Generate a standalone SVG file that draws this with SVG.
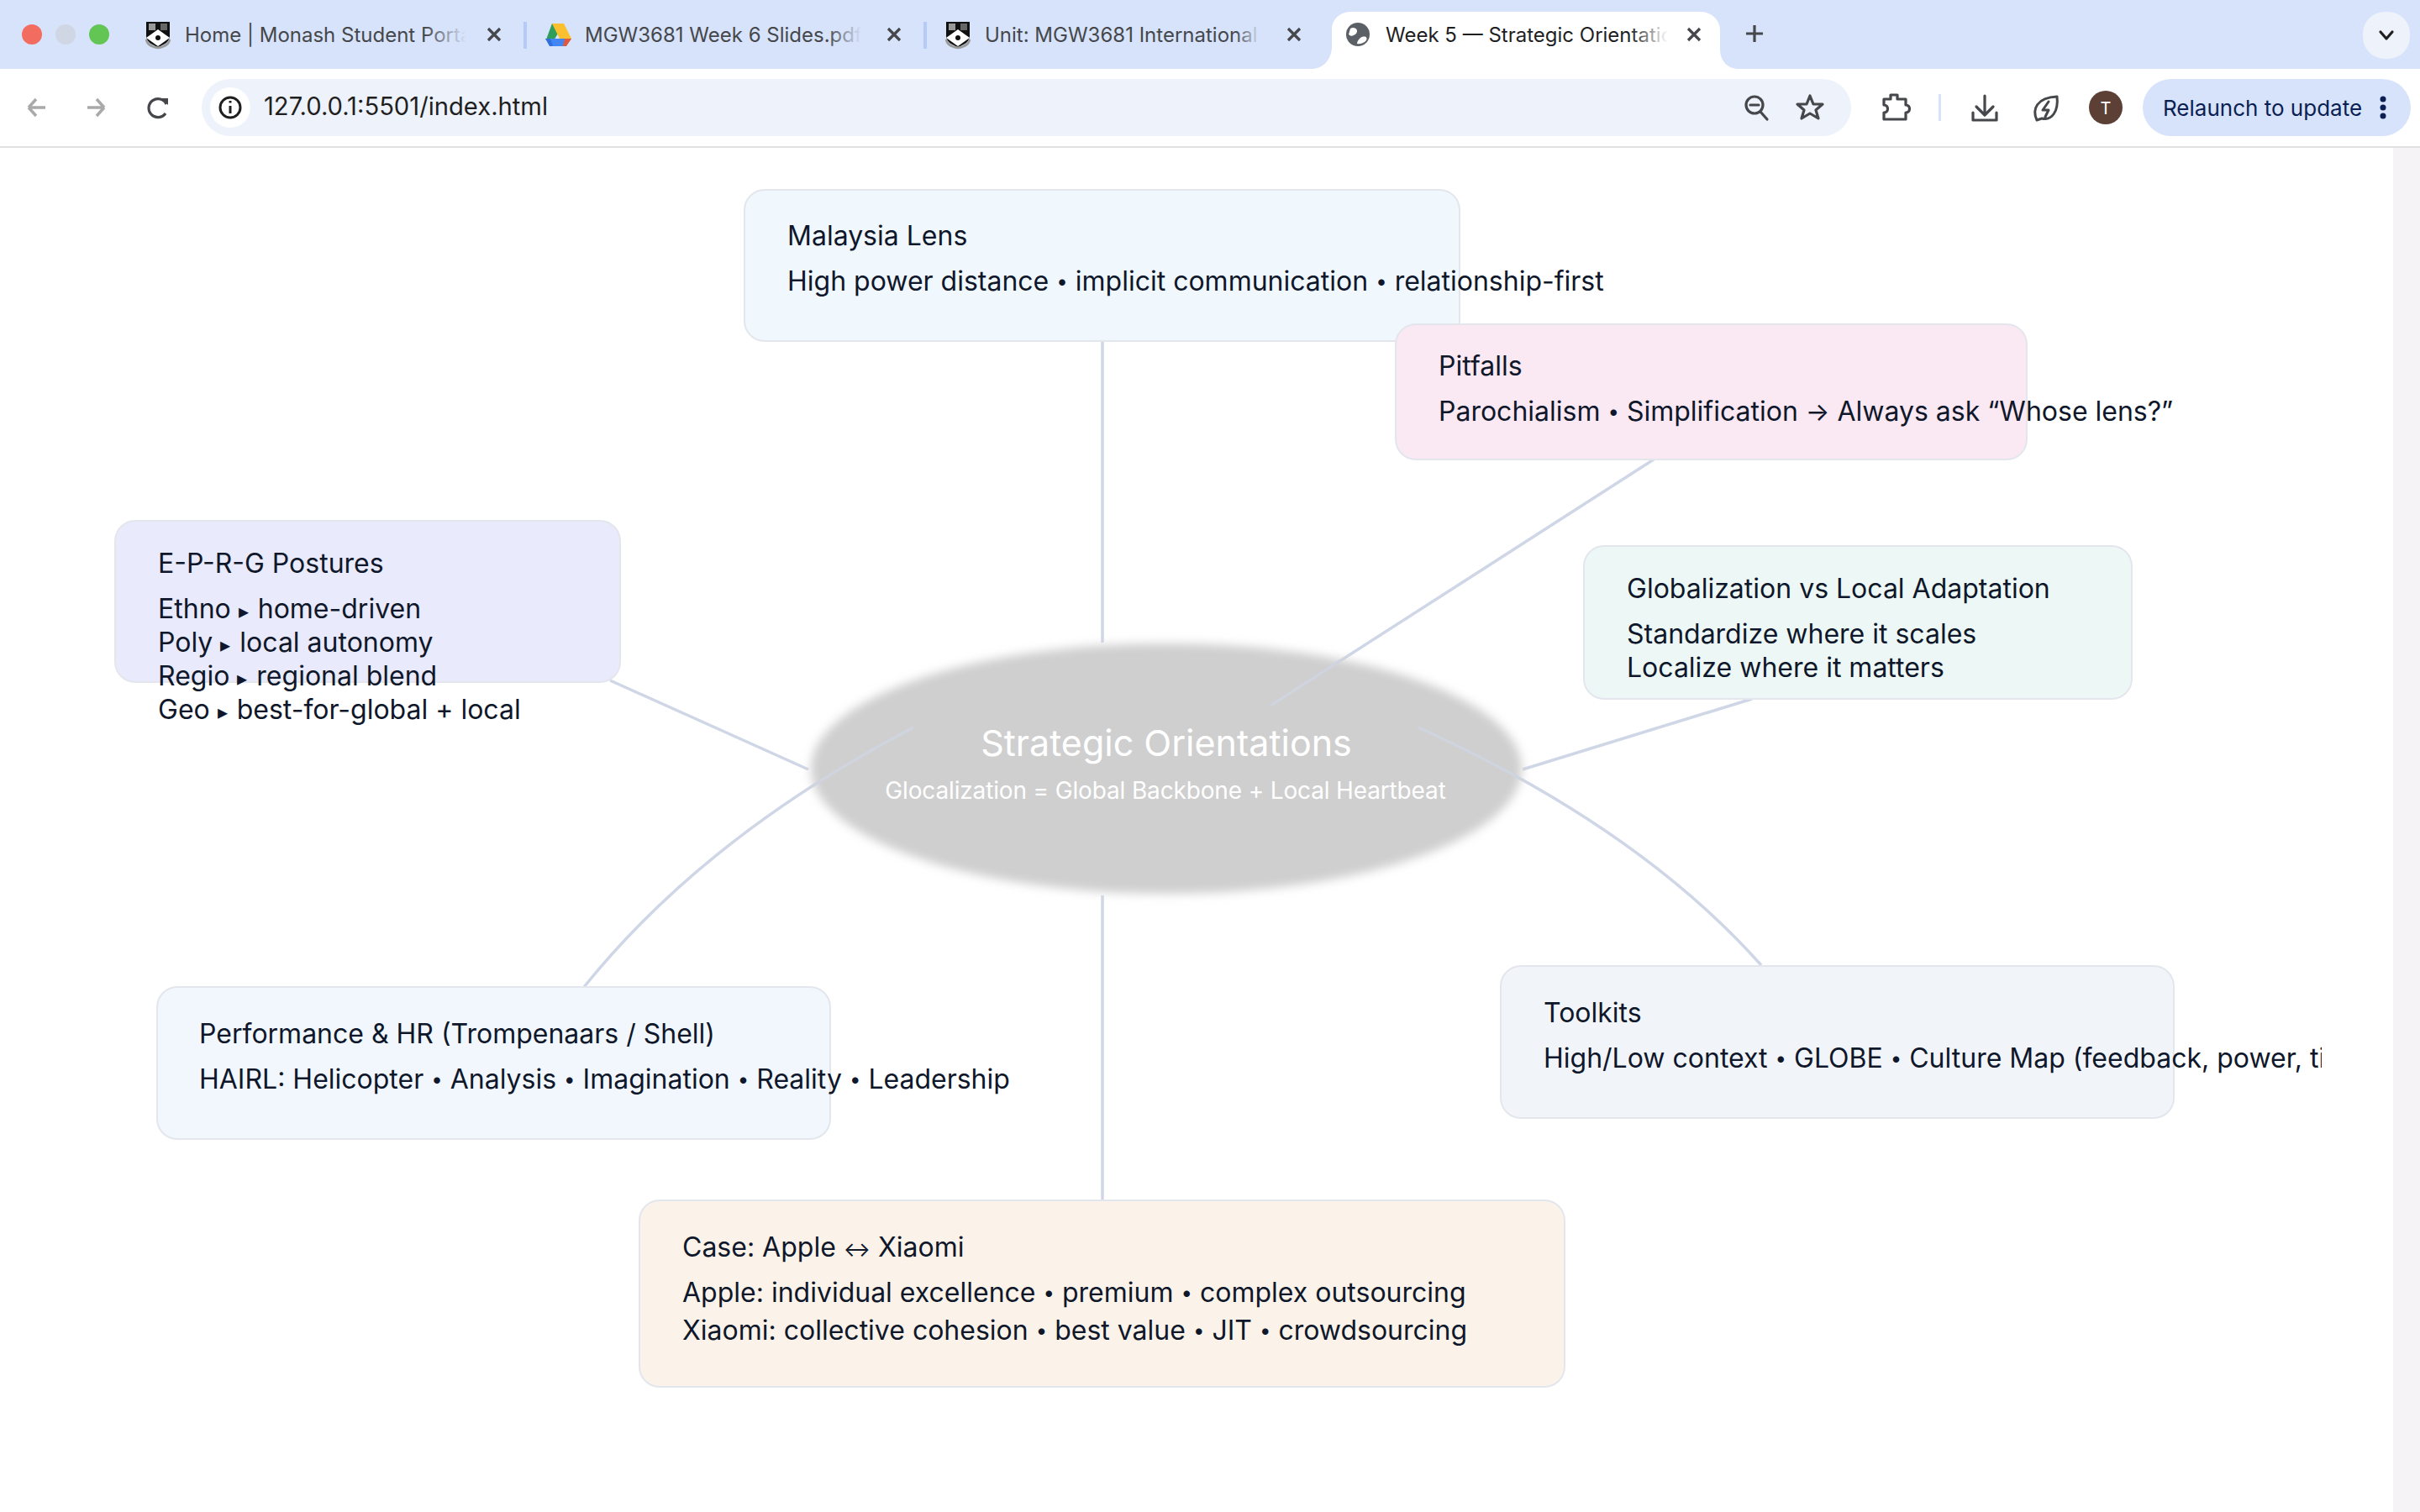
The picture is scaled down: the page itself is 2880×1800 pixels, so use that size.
<svg xmlns="http://www.w3.org/2000/svg" width="2880" height="1800" viewBox="0 0 2880 1800">
<style>
text{font-family:Inter,"Liberation Sans",sans-serif}
.t{font-size:32px;fill:#0f172a}
.s{font-size:24px;baseline-shift:3px}
.k{font-size:24px;letter-spacing:2px}
.tab{font-size:24px;fill:#45474a}
.card{stroke:#e3e6ec;stroke-width:2}
.conn{fill:none;stroke:#cfd6e6;stroke-width:3.500}
.ic{fill:none;stroke:#45474a;stroke-width:3.200;stroke-linecap:round;stroke-linejoin:round}
</style>
<defs>
<filter id="soft" x="-5%" y="-10%" width="110%" height="120%"><feGaussianBlur stdDeviation="6"/></filter>
<linearGradient id="fb"><stop offset="0" stop-color="#d7e3fb" stop-opacity="0"/><stop offset="1" stop-color="#d7e3fb"/></linearGradient>
<linearGradient id="fw"><stop offset="0" stop-color="#fff" stop-opacity="0"/><stop offset="1" stop-color="#fff"/></linearGradient>
<clipPath id="clipT"><rect x="1700" y="1200" width="1063" height="120"/></clipPath>
<clipPath id="c1"><rect x="200" y="10" width="355" height="60"/></clipPath>
<clipPath id="c2"><rect x="690" y="10" width="335" height="60"/></clipPath>
<clipPath id="c3"><rect x="1165" y="10" width="335" height="60"/></clipPath>
<clipPath id="c4"><rect x="1640" y="10" width="345" height="60"/></clipPath>
<clipPath id="cE"><ellipse cx="1388" cy="915" rx="423" ry="149"/></clipPath>
<g id="shield"><path d="M-14 -15H14V2C14 9 6 13 0 15C-6 13 -14 9 -14 2Z" fill="#111"/><path d="M-14 4L0 -6L14 4L0 14Z" fill="#fff"/><path d="M-14 6C-13 13 -6 15 0 16C6 15 13 13 14 6" fill="none" stroke="#9a9a9a" stroke-width="2.500"/><circle cy="4" r="3" fill="#111"/><rect x="-11" y="-13" width="8" height="8" fill="#999"/><rect x="3" y="-13" width="8" height="8" fill="#666"/></g>
<g id="close"><path d="M-7 -7L7 7M7 -7L-7 7" stroke="#45474a" stroke-width="3.200" fill="none"/></g>
</defs>
<rect width="2880" height="1800" fill="#fff"/>
<rect x="2848" y="176" width="32" height="1624" fill="#f6f3f6"/>

<g id="browser-chrome">
<rect width="2880" height="82" fill="#d7e3fb"/>
<path d="M0 100V96C0 88 6 82 14 82H2866C2874 82 2880 88 2880 96V100Z" fill="#fff"/>
<rect y="96" width="2880" height="78" fill="#fff"/>
<rect y="174" width="2880" height="2" fill="#e0e0e0"/>
<circle cx="38" cy="41" r="12" fill="#f26d60"/><circle cx="78" cy="41" r="12" fill="#cfd6e4"/><circle cx="118" cy="41" r="12" fill="#62c554"/>
<use href="#shield" x="188" y="41"/>
<text class="tab" x="220" y="50" clip-path="url(#c1)">Home | Monash Student Portal</text>
<rect x="505" y="20" width="50" height="40" fill="url(#fb)"/>
<use href="#close" x="588" y="41"/>
<rect x="623" y="26" width="4" height="32" fill="#b3cbf5"/>
<g id="drive"><path d="M657 28H671L658 50L650 47Z" fill="#2f9e5b"/><path d="M657 28H671L680 46H666Z" fill="#fbc02d"/><path d="M649 46H680L673 55H656Z" fill="#4285f4"/><path d="M649 46H655L658 55H654Z" fill="#2f6fde"/><path d="M680 46H672L670 55H674Z" fill="#e2583e"/></g>
<text class="tab" x="696" y="50" clip-path="url(#c2)">MGW3681 Week 6 Slides.pdf</text>
<rect x="985" y="20" width="40" height="40" fill="url(#fb)"/>
<use href="#close" x="1064" y="41"/>
<rect x="1099" y="26" width="4" height="32" fill="#b3cbf5"/>
<use href="#shield" x="1140" y="41"/>
<text class="tab" x="1172" y="50" clip-path="url(#c3)">Unit: MGW3681 International</text>
<rect x="1470" y="20" width="30" height="40" fill="url(#fb)"/>
<use href="#close" x="1540" y="41"/>
<path d="M1560 82C1575 82 1583 72 1585 58V36C1585 22 1595 14 1609 14H2023C2037 14 2047 24 2047 36V58C2047 72 2055 82 2070 82Z" fill="#fff"/>
<circle cx="1616" cy="41" r="14" fill="#5b6067"/><path d="M1607 34C1613 31 1617 36 1614 40C1610 43 1608 44 1605 41ZM1619 45C1624 42 1628 44 1626 48C1623 52 1617 53 1615 52C1615 49 1617 47 1619 45Z" fill="#fff"/>
<text class="tab" x="1649" y="50" clip-path="url(#c4)" style="fill:#1f1f1f">Week 5 — Strategic Orientation</text>
<rect x="1940" y="20" width="45" height="40" fill="url(#fw)"/>
<use href="#close" x="2016" y="41"/>
<path d="M2088 30V50M2078 40H2098" stroke="#45474a" stroke-width="3.200"/>
<rect x="2812" y="14" width="56" height="56" rx="26" fill="#edf2fb"/>
<path d="M2833 38L2840 46L2847 38" class="ic" style="stroke:#1f1f1f"/>
<path d="M34 128H54M34 128L43 118M34 128L43 138" fill="none" stroke="#a9a9a9" stroke-width="3.400"/>
<path d="M124 128H104M124 128L115 118M124 128L115 138" fill="none" stroke="#a9a9a9" stroke-width="3.400"/>
<path d="M198 124A11 11 0 1 0 197 135" fill="none" stroke="#45474a" stroke-width="3.200"/><path d="M192 117H200V125Z" fill="#45474a"/>
<rect x="240" y="94" width="1963" height="68" rx="34" fill="#edf2fb"/>
<ellipse cx="274" cy="128" rx="24" ry="24" fill="#fff"/>
<circle cx="274" cy="128" r="12" fill="none" stroke="#1f1f1f" stroke-width="3"/><path d="M274 126V135M274 120V122.500" stroke="#1f1f1f" stroke-width="3"/>
<text x="314" y="137" style="font-size:29.200px;fill:#1f1f1f">127.0.0.1:5501/index.html</text>
<circle cx="2088" cy="125" r="10" class="ic"/><path d="M2095 133L2103 142" class="ic"/><path d="M2083 125H2093" class="ic"/>
<path d="M2154 114L2158 124L2169 124L2161 131L2164 141L2154 135L2144 141L2147 131L2139 124L2150 124Z" class="ic"/>
<path d="M2242 118H2250V113H2258V118H2268V125C2274 125 2274 134 2268 134V142H2242V134C2248 134 2248 125 2242 125Z" class="ic"/>
<rect x="2307" y="112" width="3" height="32" fill="#d7e3fb"/>
<path d="M2362 114V136M2352 127L2362 137L2372 127" class="ic"/><path d="M2348 134V143H2376V134" class="ic"/>
<path d="M2424 143C2418 130 2424 116 2448 115C2450 132 2442 144 2430 141ZM2438 121L2431 131H2438L2434 139" class="ic" style="stroke-width:3"/>
<circle cx="2506" cy="128" r="20" fill="#5c4036"/><text x="2506" y="136" text-anchor="middle" style="font-size:20px;fill:#fff">T</text>
<rect x="2550" y="94" width="319" height="68" rx="34" fill="#d7e3fb"/>
<text x="2574" y="138" style="font-size:26px;fill:#0b1f52">Relaunch to update</text>
<circle cx="2836" cy="118" r="3.500" fill="#0b1f52"/><circle cx="2836" cy="128" r="3.500" fill="#0b1f52"/><circle cx="2836" cy="138" r="3.500" fill="#0b1f52"/>
</g>

<g id="connectors">
<path class="conn" d="M1312 406V765"/>
<path class="conn" d="M1312 1066V1429"/>
<path class="conn" d="M1968 547L1512 840"/>
<path class="conn" d="M2085 832L1812 916"/>
<path class="conn" d="M726 810L962 916"/>
<path class="conn" d="M695 1175Q840 995 1087 866"/>
<path class="conn" d="M2096 1149Q1950 985 1688 866"/>
</g>

<g id="center">
<ellipse cx="1388" cy="915" rx="423" ry="149" fill="#cfcfcf" filter="url(#soft)"/>
<g clip-path="url(#cE)" opacity=".7">
<path class="conn" d="M1968 547L1512 840"/>
<path class="conn" d="M695 1175Q840 995 1087 866"/>
<path class="conn" d="M2096 1149Q1950 985 1688 866"/>
</g>
<text x="1388" y="900" text-anchor="middle" style="font-size:43px;fill:#fff">Strategic Orientations</text>
<text x="1387" y="951" text-anchor="middle" style="font-size:28px;letter-spacing:-.15px;fill:#fff">Glocalization = Global Backbone + Local Heartbeat</text>
</g>

<g id="node-malaysia">
<rect class="card" x="886" y="226" width="851" height="180" rx="24" fill="#f0f7fd"/>
<text class="t" x="937" y="291.500">Malaysia Lens</text>
<text class="t" x="937" y="346">High power distance <tspan class="s">•</tspan> implicit communication <tspan class="s">•</tspan> relationship-first</text>
</g>
<g id="node-pitfalls">
<rect class="card" x="1661" y="386" width="751" height="161" rx="24" fill="#fae8f3"/>
<text class="t" x="1712" y="446.500">Pitfalls</text>
<text class="t" x="1712" y="501">Parochialism <tspan class="s">•</tspan> Simplification <tspan style="font-size:30px">→</tspan> Always ask “Whose lens?”</text>
</g>
<g id="node-globalization">
<rect class="card" x="1885" y="650" width="652" height="182" rx="24" fill="#edf8f6"/>
<text class="t" x="1936" y="711.500">Globalization vs Local Adaptation</text>
<text class="t" x="1936" y="766">Standardize where it scales</text>
<text class="t" x="1936" y="806">Localize where it matters</text>
</g>
<g id="node-eprg">
<rect class="card" x="137" y="620" width="601" height="192" rx="24" fill="#e9eafb"/>
<text class="t" x="188" y="681.500">E-P-R-G Postures</text>
<text class="t" x="188" y="736">Ethno <tspan class="k">▸</tspan> home-driven</text>
<text class="t" x="188" y="776">Poly <tspan class="k">▸</tspan> local autonomy</text>
<text class="t" x="188" y="816">Regio <tspan class="k">▸</tspan> regional blend</text>
<text class="t" x="188" y="856">Geo <tspan class="k">▸</tspan> best-for-global + local</text>
</g>
<g id="node-performance">
<rect class="card" x="187" y="1175" width="801" height="181" rx="24" fill="#f2f7fe"/>
<text class="t" x="237" y="1241.500">Performance &amp; HR (Trompenaars / Shell)</text>
<text class="t" x="237" y="1296">HAIRL: Helicopter <tspan class="s">•</tspan> Analysis <tspan class="s">•</tspan> Imagination <tspan class="s">•</tspan> Reality <tspan class="s">•</tspan> Leadership</text>
</g>
<g id="node-toolkits">
<rect class="card" x="1786" y="1150" width="801" height="181" rx="24" fill="#f1f4f9"/>
<text class="t" x="1837" y="1216.500">Toolkits</text>
<text class="t" x="1837" y="1271" clip-path="url(#clipT)">High/Low context <tspan class="s">•</tspan> GLOBE <tspan class="s">•</tspan> Culture Map (feedback, power, time)</text>
</g>
<g id="node-case">
<rect class="card" x="761" y="1429" width="1101" height="222" rx="24" fill="#fbf3e9"/>
<text class="t" x="812" y="1495.500">Case: Apple <tspan style="font-size:24px">↔</tspan> Xiaomi</text>
<text class="t" x="812" y="1550">Apple: individual excellence <tspan class="s">•</tspan> premium <tspan class="s">•</tspan> complex outsourcing</text>
<text class="t" x="812" y="1595">Xiaomi: collective cohesion <tspan class="s">•</tspan> best value <tspan class="s">•</tspan> JIT <tspan class="s">•</tspan> crowdsourcing</text>
</g>
</svg>
